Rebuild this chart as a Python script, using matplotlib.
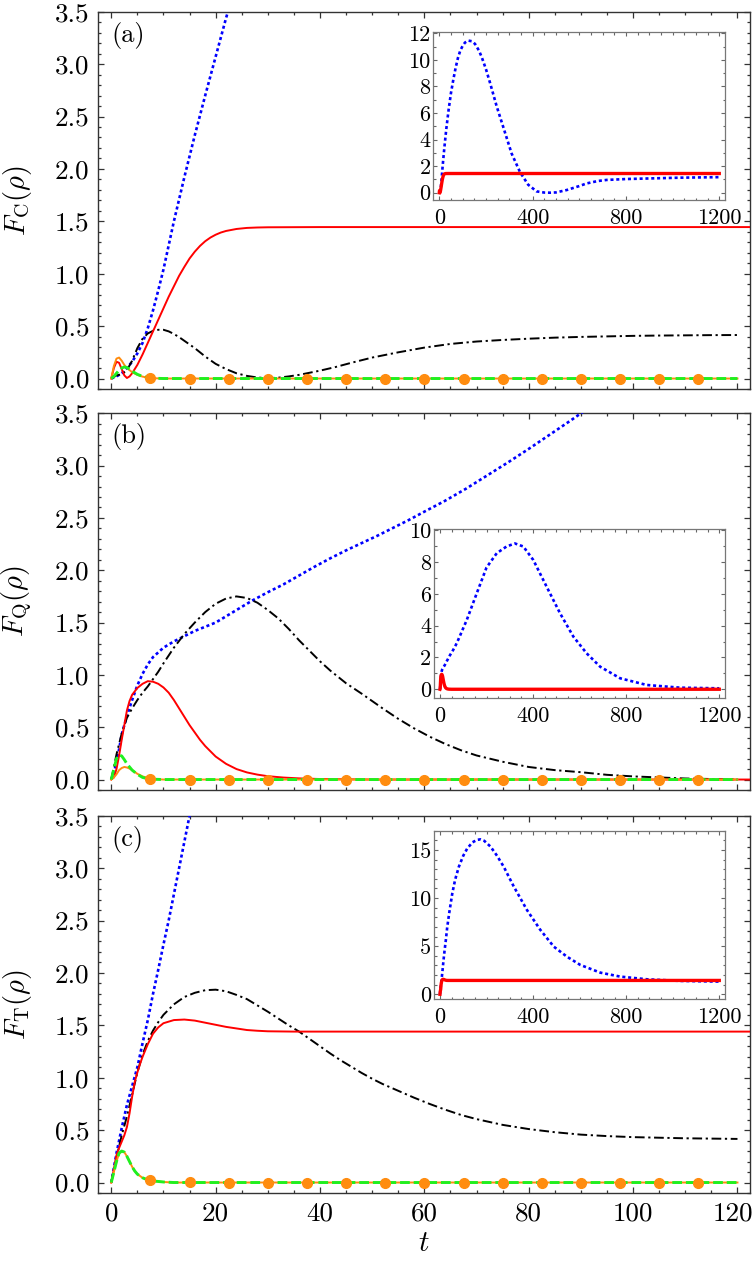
import numpy as np
import matplotlib
matplotlib.use('Agg')
import matplotlib.pyplot as plt
from matplotlib.ticker import MultipleLocator, FixedLocator, FixedFormatter
from matplotlib.transforms import ScaledTranslation

plt.rcParams['font.family'] = 'cmr10'
plt.rcParams['mathtext.fontset'] = 'cm'
plt.rcParams['axes.formatter.use_mathtext'] = True
plt.rcParams['lines.scale_dashes'] = False

# ---------------- data ----------------
# panel (a)
t_blue_a = [0, 1, 2, 3, 4, 5, 6, 7, 8, 9, 10, 12, 14, 16, 18, 20, 22, 24, 30, 40, 50, 60, 70, 80, 90,
            100, 110, 124, 140, 153, 170, 182, 200, 217, 246, 274, 310, 346, 381, 417, 450, 474, 500,
            546, 600, 632, 680, 717, 803, 917, 1031, 1200]
blue_a = [0, 0.02, 0.05, 0.1, 0.16, 0.24, 0.34, 0.48, 0.65, 0.84, 1.04, 1.5, 1.92, 2.32, 2.7, 3.07, 3.44,
          3.78, 4.8, 6.25, 7.5, 8.5, 9.4, 10.15, 10.7, 11.05, 11.3, 11.45, 11.4, 11.2, 10.7, 10.2, 9.3,
          8.3, 6.5, 4.95, 2.95, 1.55, 0.6, 0.1, 0.01, 0.0, 0.02, 0.2, 0.5, 0.7, 0.88, 0.96, 1.03, 1.08,
          1.13, 1.17]
t_red_a = [0, 0.5, 1, 1.5, 2, 2.5, 3, 3.5, 4, 5, 6, 7, 8, 9, 10, 11, 12, 13, 14, 15, 16, 17, 18, 19, 20,
           21, 22, 24, 26, 28, 30, 40, 120, 1200]
red_a = [0, 0.1, 0.16, 0.15, 0.09, 0.03, 0.005, 0.02, 0.05, 0.13, 0.23, 0.34, 0.45, 0.56, 0.67, 0.78,
         0.88, 0.98, 1.065, 1.145, 1.21, 1.265, 1.31, 1.345, 1.372, 1.393, 1.408, 1.427, 1.437, 1.441,
         1.443, 1.445, 1.445, 1.445]
t_black_a = [0, 1, 2, 3, 4, 5, 6, 7, 8, 9, 10, 11, 12, 13, 14, 15, 16, 17, 18, 19, 20, 22, 24, 26, 28, 30,
             32, 34, 36, 38, 40, 43, 46, 50, 55, 60, 65, 70, 75, 80, 85, 90, 95, 100, 105, 110, 115, 120]
black_a = [0, 0.03, 0.04, 0.08, 0.17, 0.29, 0.38, 0.43, 0.455, 0.465, 0.465, 0.45, 0.425, 0.395, 0.36,
           0.325, 0.29, 0.25, 0.21, 0.175, 0.14, 0.09, 0.05, 0.025, 0.01, 0.003, 0.008, 0.02, 0.035,
           0.055, 0.075, 0.11, 0.15, 0.2, 0.25, 0.295, 0.33, 0.353, 0.368, 0.38, 0.39, 0.397, 0.402,
           0.407, 0.41, 0.412, 0.414, 0.415]
t_green_a = [0, 0.5, 1, 1.5, 2, 2.5, 3, 3.5, 4, 5, 6, 7, 8, 10, 120]
green_a = [0, 0.02, 0.05, 0.08, 0.1, 0.11, 0.105, 0.09, 0.07, 0.04, 0.02, 0.01, 0.003, 0, 0]
t_orange_a = [0, 0.5, 1, 1.5, 2, 2.5, 3, 3.5, 4, 5, 6, 7, 8, 10, 120]
orange_a = [0, 0.12, 0.19, 0.2, 0.17, 0.13, 0.1, 0.08, 0.06, 0.035, 0.018, 0.008, 0.003, 0, 0]

# panel (b)
t_blue_b = [0, 0.5, 1, 1.5, 2, 2.5, 3, 4, 5, 6, 7, 8, 10, 12, 14, 16, 18, 20, 23, 27, 30, 33, 36, 39,
            42, 45, 48, 51, 54, 57, 60, 64, 68, 72, 76, 80, 84, 88, 92, 115, 158, 200, 244, 286, 322,
            358, 401, 458, 516, 573, 630, 688, 774, 888, 1031, 1200]
blue_b = [0, 0.07, 0.16, 0.29, 0.43, 0.52, 0.61, 0.76, 0.9, 1.01, 1.1, 1.17, 1.26, 1.32, 1.37, 1.42,
          1.46, 1.5, 1.59, 1.71, 1.79, 1.865, 1.95, 2.035, 2.115, 2.19, 2.26, 2.33, 2.405, 2.48, 2.56,
          2.665, 2.78, 2.905, 3.03, 3.16, 3.295, 3.43, 3.57, 4.35, 6.03, 7.65, 8.55, 8.97, 9.16, 8.97,
          8.12, 6.45, 4.77, 3.31, 2.26, 1.42, 0.69, 0.27, 0.1, 0.06]
t_red_b = [0, 0.5, 1, 1.5, 2, 2.5, 3, 3.5, 4, 5, 6, 7, 8, 9, 10, 11, 12, 13, 14, 15, 16, 17, 18, 20, 22,
           24, 26, 28, 30, 33, 36, 40, 50, 120, 1200]
red_b = [0, 0.02, 0.1, 0.23, 0.38, 0.52, 0.66, 0.75, 0.81, 0.875, 0.915, 0.94, 0.935, 0.915, 0.88, 0.83,
         0.76, 0.68, 0.6, 0.52, 0.45, 0.38, 0.32, 0.22, 0.15, 0.1, 0.068, 0.047, 0.032, 0.019, 0.011,
         0.005, 0, 0, 0]
t_black_b = [0, 1, 2, 3, 4, 5, 6, 7, 8, 9, 10, 12, 14, 16, 18, 20, 22, 24, 26, 28, 30, 32, 34, 36, 38, 40,
             42, 45, 48, 50, 52, 55, 58, 61, 64, 67, 70, 75, 80, 85, 90, 95, 100, 105, 110, 120]
black_b = [0, 0.24, 0.44, 0.59, 0.68, 0.76, 0.83, 0.89, 0.96, 1.03, 1.11, 1.26, 1.39, 1.5, 1.6, 1.68,
           1.73, 1.75, 1.735, 1.69, 1.62, 1.54, 1.44, 1.33, 1.23, 1.13, 1.04, 0.92, 0.82, 0.75, 0.68,
           0.58, 0.49, 0.41, 0.34, 0.28, 0.23, 0.17, 0.12, 0.09, 0.07, 0.045, 0.03, 0.02, 0.01, 0.0]
t_green_b = [0, 0.5, 1, 1.5, 2, 2.5, 3, 3.5, 4, 5, 6, 7, 8, 10, 120]
green_b = [0, 0.1, 0.2, 0.235, 0.225, 0.19, 0.15, 0.12, 0.09, 0.05, 0.02, 0.008, 0.003, 0, 0]
t_orange_b = [0, 0.5, 1, 1.5, 2, 2.5, 3, 3.5, 4, 5, 6, 7, 8, 10, 120]
orange_b = [0, 0.02, 0.05, 0.09, 0.11, 0.12, 0.115, 0.105, 0.09, 0.055, 0.03, 0.015, 0.005, 0, 0]

# panel (c)
t_blue_c = [0, 1, 2, 3, 4, 5, 6, 7, 8, 9, 10, 11, 12, 13, 14, 15, 17, 20, 25, 31, 40, 53, 65, 81, 100,
            117, 140, 160, 174, 190, 217, 245, 274, 317, 374, 431, 489, 546, 603, 689, 774, 889, 1031,
            1200]
blue_c = [0, 0.28, 0.52, 0.74, 0.92, 1.1, 1.33, 1.55, 1.8, 2.03, 2.27, 2.5, 2.75, 3.0, 3.25, 3.5, 3.95,
          4.6, 5.6, 6.95, 8.5, 10.5, 11.9, 13.25, 14.4, 15.15, 15.8, 16.05, 16.1, 15.95, 15.35, 14.4,
          13.25, 11.2, 8.75, 6.7, 4.95, 3.9, 3.05, 2.25, 1.84, 1.56, 1.39, 1.32]
t_red_c = [0, 0.5, 1, 1.5, 2, 2.5, 3, 3.5, 4, 4.5, 5, 5.5, 6, 7, 8, 9, 10, 12, 14, 16, 18, 20, 22, 24, 26,
           28, 30, 35, 40, 120, 1200]
red_c = [0, 0.13, 0.26, 0.33, 0.39, 0.45, 0.53, 0.66, 0.82, 0.96, 1.05, 1.13, 1.2, 1.32, 1.42, 1.48,
         1.52, 1.55, 1.555, 1.545, 1.525, 1.505, 1.485, 1.47, 1.455, 1.448, 1.443, 1.44, 1.44, 1.44,
         1.44]
t_black_c = [0, 1, 2, 3, 4, 5, 6, 7, 8, 9, 10, 12, 14, 16, 18, 20, 22, 24, 26, 28, 30, 32, 34, 36, 38, 40,
             42, 44, 46, 48, 50, 52, 55, 58, 61, 64, 67, 70, 75, 80, 85, 90, 95, 100, 110, 120]
black_c = [0, 0.24, 0.45, 0.63, 0.84, 1.05, 1.22, 1.35, 1.45, 1.53, 1.6, 1.7, 1.77, 1.81, 1.835, 1.84,
           1.825, 1.79, 1.75, 1.69, 1.63, 1.565, 1.5, 1.44, 1.37, 1.3, 1.23, 1.165, 1.105, 1.045, 0.99,
           0.94, 0.875, 0.81, 0.75, 0.695, 0.645, 0.605, 0.55, 0.51, 0.48, 0.457, 0.443, 0.433, 0.422,
           0.416]
t_green_c = [0, 0.5, 1, 1.5, 2, 2.5, 3, 3.5, 4, 4.5, 5, 6, 7, 8, 10, 12, 120]
green_c = [0, 0.1, 0.2, 0.28, 0.3, 0.29, 0.25, 0.2, 0.15, 0.11, 0.08, 0.045, 0.025, 0.015, 0.005, 0, 0]
t_orange_c = [0, 0.5, 1, 1.5, 2, 2.5, 3, 3.5, 4, 4.5, 5, 6, 7, 8, 10, 12, 120]
orange_c = [0, 0.1, 0.2, 0.28, 0.3, 0.29, 0.25, 0.2, 0.15, 0.11, 0.08, 0.045, 0.025, 0.015, 0.005, 0, 0]

# orange markers (same t for all panels)
marker_t = [7.5, 15, 22.5, 30, 37.5, 45, 52.5, 60, 67.5, 75, 82.5, 90, 97.5, 105, 112.5]
marker_a = [0.003] + [0.0] * 14
marker_b = [0.004] + [0.0] * 14
marker_c = [0.02, 0.002] + [0.0] * 13

# ticks
main_xticks = [0, 20, 40, 60, 80, 100, 120]
main_xticklabels = ['0', '20', '40', '60', '80', '100', '120']
main_yticks = [0.0, 0.5, 1.0, 1.5, 2.0, 2.5, 3.0, 3.5]
main_yticklabels = ['0.0', '0.5', '1.0', '1.5', '2.0', '2.5', '3.0', '3.5']
inset_xticks = [0, 400, 800, 1200]
inset_xticklabels = ['0', '400', '800', '1200']
inset_yticks_a = [0, 2, 4, 6, 8, 10, 12]
inset_yticks_b = [0, 2, 4, 6, 8, 10]
inset_yticks_c = [0, 5, 10, 15]

ylabels = [r'$F_{\mathrm{C}}(\rho)$', r'$F_{\mathrm{Q}}(\rho)$', r'$F_{\mathrm{T}}(\rho)$']
panel_tags = ['(a)', '(b)', '(c)']

# ---------------- styles ----------------
BLUE = '#0000ff'
RED = '#ff0000'
GREEN = '#1ff01f'
ORANGE = '#ff8c0f'
blue_ls = (0, (2.2, 2.0))
black_ls = (0, (7.0, 2.6, 1.6, 2.6))
green_ls = (0, (7.0, 2.8))

W, H = 755, 1263
fig = plt.figure(figsize=(W / 100, H / 100), dpi=100)

main_boxes = [
    (97.7, 11.7, 750, 389),
    (97.7, 413.3, 750, 790),
    (97.7, 815.7, 750, 1193),
]
inset_boxes = [
    (433.3, 31.7, 725, 200),
    (434, 529.3, 725, 697.7),
    (434, 830.7, 725, 999.3),
]
inset_ylims = [(-0.55, 12.12), (-0.53, 10.05), (-0.52, 17.0)]
inset_yticks = [inset_yticks_a, inset_yticks_b, inset_yticks_c]
inset_yminor = [1, 1, 1]


def box_to_rect(b):
    x0, y0, x1, y1 = b
    return [x0 / W, 1 - y1 / H, (x1 - x0) / W, (y1 - y0) / H]


panels = [
    (t_blue_a, blue_a, t_red_a, red_a, t_black_a, black_a, t_green_a, green_a, t_orange_a, orange_a, marker_a),
    (t_blue_b, blue_b, t_red_b, red_b, t_black_b, black_b, t_green_b, green_b, t_orange_b, orange_b, marker_b),
    (t_blue_c, blue_c, t_red_c, red_c, t_black_c, black_c, t_green_c, green_c, t_orange_c, orange_c, marker_c),
]

SPINE = '#333333'
bottom_ax = None
for i, (tb, yb, tr, yr, tk, yk, tg, yg, to, yo, ym) in enumerate(panels):
    ax = fig.add_axes(box_to_rect(main_boxes[i]))
    ax.plot(tb, yb, color=BLUE, lw=1.9, ls=blue_ls, zorder=3)
    ax.plot(tk, yk, color='black', lw=1.4, ls=black_ls, zorder=3)
    ax.plot(tr, yr, color=RED, lw=1.4, zorder=4)
    ax.plot(to, yo, color=ORANGE, lw=1.4, zorder=5)
    ax.plot(tg, yg, color=GREEN, lw=2.1, ls=green_ls, zorder=6)
    ax.plot(marker_t, ym, ls='none', marker='o', ms=7, color=ORANGE, mec=ORANGE, zorder=7)

    ax.set_xlim(-2.6, 122.4)
    ax.set_ylim(-0.1, 3.5)
    ax.xaxis.set_major_locator(FixedLocator(main_xticks))
    ax.xaxis.set_minor_locator(MultipleLocator(5))
    ax.yaxis.set_major_locator(FixedLocator(main_yticks))
    ax.yaxis.set_major_formatter(FixedFormatter(main_yticklabels))
    ax.yaxis.set_minor_locator(MultipleLocator(0.1))
    ax.tick_params(which='both', direction='in', top=True, right=True, color=SPINE, width=0.9)
    ax.tick_params(which='major', length=4.0)
    ax.tick_params(which='minor', length=2.2)
    ax.tick_params(axis='y', labelsize=19.5, pad=6)
    ax.tick_params(axis='x', labelsize=19.5, pad=6)
    if i == 2:
        ax.xaxis.set_major_formatter(FixedFormatter(main_xticklabels))
        ax.set_xlabel(r'$t$', fontsize=21, labelpad=4)
        bottom_ax = ax
    else:
        ax.tick_params(axis='x', labelbottom=False)
    for s in ax.spines.values():
        s.set_color(SPINE)
        s.set_linewidth(1.0)
    ax.set_ylabel(ylabels[i], fontsize=20.5)
    ax.yaxis.set_label_coords(-0.098, 0.5)
    ax.text(0.021, 0.974, panel_tags[i], transform=ax.transAxes, ha='left', va='top', fontsize=19)

    # inset
    ai = fig.add_axes(box_to_rect(inset_boxes[i]))
    ai.plot(tb, yb, color=BLUE, lw=1.9, ls=blue_ls, zorder=3)
    ai.plot(tr, yr, color=RED, lw=2.4, zorder=4)
    ai.set_xlim(-25.7, 1224.6)
    ai.set_ylim(*inset_ylims[i])
    ai.xaxis.set_major_locator(FixedLocator(inset_xticks))
    ai.xaxis.set_major_formatter(FixedFormatter(inset_xticklabels))
    ai.xaxis.set_minor_locator(MultipleLocator(50))
    ai.yaxis.set_major_locator(FixedLocator(inset_yticks[i]))
    ai.yaxis.set_major_formatter(FixedFormatter([str(v) for v in inset_yticks[i]]))
    ai.yaxis.set_minor_locator(MultipleLocator(inset_yminor[i]))
    ai.tick_params(which='both', direction='in', top=True, right=True, color='#666666', width=0.8)
    ai.tick_params(which='major', length=3.2)
    ai.tick_params(which='minor', length=1.8)
    ai.tick_params(axis='y', labelsize=16, pad=2)
    ai.tick_params(axis='x', labelsize=16, pad=6)
    for s in ai.spines.values():
        s.set_color('#777777')
        s.set_linewidth(0.9)

# nudge the last bottom tick label ("120") slightly left so it stays inside the canvas
fig.canvas.draw()
last_tick = bottom_ax.xaxis.get_major_ticks()[-1]
lbl = last_tick.label1
lbl.set_transform(lbl.get_transform() + ScaledTranslation(-0.045, 0, fig.dpi_scale_trans))

fig.savefig('out.png', dpi=100)
